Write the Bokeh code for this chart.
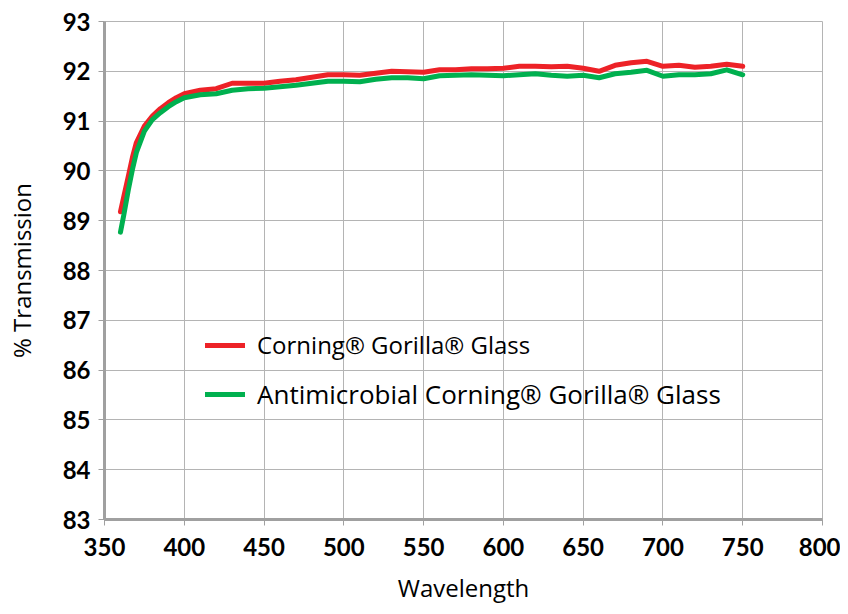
from bokeh.plotting import figure
from bokeh.models import Range1d, FixedTicker, Legend, LegendItem
from bokeh.embed import file_html
from bokeh.resources import INLINE

wavelength = [360, 362, 365, 367.5, 370, 375, 380, 385, 390, 395, 400, 410, 420, 430, 440, 450,
              460, 470, 480, 490, 500, 510, 520, 530, 540, 550, 560, 570, 580, 590, 600, 610,
              620, 630, 640, 650, 660, 670, 680, 690, 700, 710, 720, 730, 740, 750]
gorilla = [89.18, 89.47, 89.90, 90.27, 90.57, 90.90, 91.10, 91.25, 91.37, 91.47, 91.55, 91.62,
           91.65, 91.76, 91.76, 91.76, 91.80, 91.83, 91.88, 91.93, 91.93, 91.92, 91.96, 92.00,
           91.99, 91.98, 92.03, 92.03, 92.05, 92.05, 92.06, 92.10, 92.10, 92.09, 92.10, 92.06,
           92.00, 92.12, 92.17, 92.20, 92.10, 92.12, 92.08, 92.10, 92.14, 92.10]
antimicrobial = [88.77, 89.10, 89.63, 90.03, 90.37, 90.80, 91.03, 91.17, 91.29, 91.39, 91.47,
                 91.53, 91.55, 91.62, 91.65, 91.66, 91.69, 91.72, 91.76, 91.80, 91.80, 91.79,
                 91.84, 91.87, 91.87, 91.85, 91.91, 91.92, 91.93, 91.92, 91.91, 91.93, 91.95,
                 91.92, 91.90, 91.92, 91.87, 91.95, 91.98, 92.02, 91.90, 91.93, 91.93, 91.95,
                 92.03, 91.93]
x_ticks = [350, 400, 450, 500, 550, 600, 650, 700, 750, 800]
y_ticks = [83, 84, 85, 86, 87, 88, 89, 90, 91, 92, 93]
labels = ["Corning® Gorilla® Glass", "Antimicrobial Corning® Gorilla® Glass"]

RED = "#ED2227"
GREEN = "#00B04F"
GRID = "#b4b4b4"
AXIS = "#a0a0a0"

p = figure(width=840, height=606, output_backend="svg", toolbar_location=None,
           x_range=Range1d(350, 800), y_range=Range1d(83, 93),
           min_border_left=104, min_border_right=18, min_border_top=21, min_border_bottom=86)
p.outline_line_color = GRID
p.outline_line_width = 1

p.xaxis.ticker = FixedTicker(ticks=x_ticks)
p.yaxis.ticker = FixedTicker(ticks=y_ticks)
p.xgrid.ticker = FixedTicker(ticks=x_ticks)
p.ygrid.ticker = FixedTicker(ticks=y_ticks)
p.grid.grid_line_color = GRID
p.grid.grid_line_width = 1

for ax in (p.xaxis, p.yaxis):
    ax.axis_line_color = AXIS
    ax.axis_line_width = 3
    ax.major_tick_line_color = AXIS
    ax.major_tick_line_width = 1
    ax.major_tick_out = 6
    ax.major_tick_in = 0
    ax.minor_tick_line_color = None
    ax.major_label_text_font = "Lato"
    ax.major_label_text_font_style = "bold"
    ax.major_label_text_font_size = "24px"
    ax.major_label_text_color = "#000000"
    ax.axis_label_text_font = "Open Sans"
    ax.axis_label_text_font_style = "normal"
    ax.axis_label_text_font_size = "24px"
    ax.axis_label_text_color = "#000000"

p.xaxis.major_label_standoff = 12
p.yaxis.major_label_standoff = 8
p.xaxis.axis_label = "Wavelength"
p.yaxis.axis_label = "% Transmission"
p.xaxis.axis_label_standoff = 12
p.yaxis.axis_label_standoff = 22

r1 = p.line(wavelength, gorilla, line_color=RED, line_width=5, line_join="round", line_cap="round")
r2 = p.line(wavelength, antimicrobial, line_color=GREEN, line_width=5, line_join="round", line_cap="round")

common = dict(padding=0, margin=0, glyph_width=40, glyph_height=24, label_height=24,
              label_standoff=12, background_fill_alpha=0, border_line_alpha=0,
              label_text_font="Open Sans", label_text_color="#000000")
legend1 = Legend(items=[LegendItem(label=labels[0], renderers=[r1])],
                 location=(101, 158), label_text_font_size="24px", **common)
legend2 = Legend(items=[LegendItem(label=labels[1], renderers=[r2])],
                 location=(101, 107), label_text_font_size="26px", **common)
p.add_layout(legend1)
p.add_layout(legend2)

open("out.html", "w").write(file_html(p, INLINE))
